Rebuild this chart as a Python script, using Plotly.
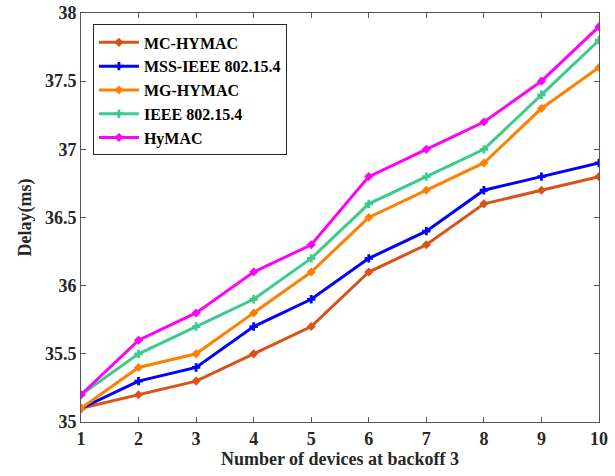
import plotly.graph_objects as go

x_devices = [1, 2, 3, 4, 5, 6, 7, 8, 9, 10]
mc_hymac = [35.1, 35.2, 35.3, 35.5, 35.7, 36.1, 36.3, 36.6, 36.7, 36.8]
mss_ieee = [35.1, 35.3, 35.4, 35.7, 35.9, 36.2, 36.4, 36.7, 36.8, 36.9]
mg_hymac = [35.1, 35.4, 35.5, 35.8, 36.1, 36.5, 36.7, 36.9, 37.3, 37.6]
ieee = [35.2, 35.5, 35.7, 35.9, 36.2, 36.6, 36.8, 37.0, 37.4, 37.8]
hymac = [35.2, 35.6, 35.8, 36.1, 36.3, 36.8, 37.0, 37.2, 37.5, 37.9]

names = ["MC-HYMAC", "MSS-IEEE 802.15.4", "MG-HYMAC", "IEEE 802.15.4", "HyMAC"]
series = [mc_hymac, mss_ieee, mg_hymac, ieee, hymac]
colors = ["#D95319", "#0000FF", "#FF8000", "#3CCB8C", "#FF00FF"]
symbols = ["diamond", "cross", "diamond", "cross", "diamond"]

fig = go.Figure()
for n, s, c, sym in zip(names, series, colors, symbols):
    fig.add_trace(go.Scatter(
        x=x_devices, y=s, name=n, mode="lines+markers",
        line=dict(color=c, width=3),
        marker=dict(symbol=sym, size=7, color=c),
    ))

font_family = "Liberation Serif"
fig.update_layout(
    width=615, height=476,
    margin=dict(l=81, r=16, t=13, b=54),
    paper_bgcolor="white", plot_bgcolor="white",
    font=dict(family=font_family, size=17, color="#262626"),
    showlegend=True,
    legend=dict(
        x=0.023, y=0.972, xanchor="left", yanchor="top",
        bgcolor="white", bordercolor="#262626", borderwidth=1,
        font=dict(family=font_family, size=16, color="#000000", weight="bold"),
        tracegroupgap=0, itemwidth=40,
    ),
    xaxis=dict(
        range=[1, 10], tickvals=x_devices, automargin=False,
        ticks="inside", ticklen=5, tickcolor="#555",
        showline=True, linecolor="#555", linewidth=1, mirror="ticks",
        showgrid=False, zeroline=False, ticklabeloverflow="allow",
        tickfont=dict(family=font_family, size=18, color="#262626", weight="bold"),
        title=dict(text="Number of devices at backoff 3", standoff=0,
                   font=dict(family=font_family, size=18, color="#262626", weight="bold")),
    ),
    yaxis=dict(
        range=[35, 38], dtick=0.5, automargin=False,
        ticks="inside", ticklen=5, tickcolor="#555",
        showline=True, linecolor="#555", linewidth=1, mirror="ticks",
        showgrid=False, zeroline=False, ticklabeloverflow="allow",
        tickfont=dict(family=font_family, size=18, color="#262626", weight="bold"),
        title=dict(text="Delay(ms)", standoff=8,
                   font=dict(family=font_family, size=18, color="#262626", weight="bold")),
    ),
)

fig.write_html("out.html", config={"displayModeBar": False},
               post_script="document.body.style.margin='0';")
